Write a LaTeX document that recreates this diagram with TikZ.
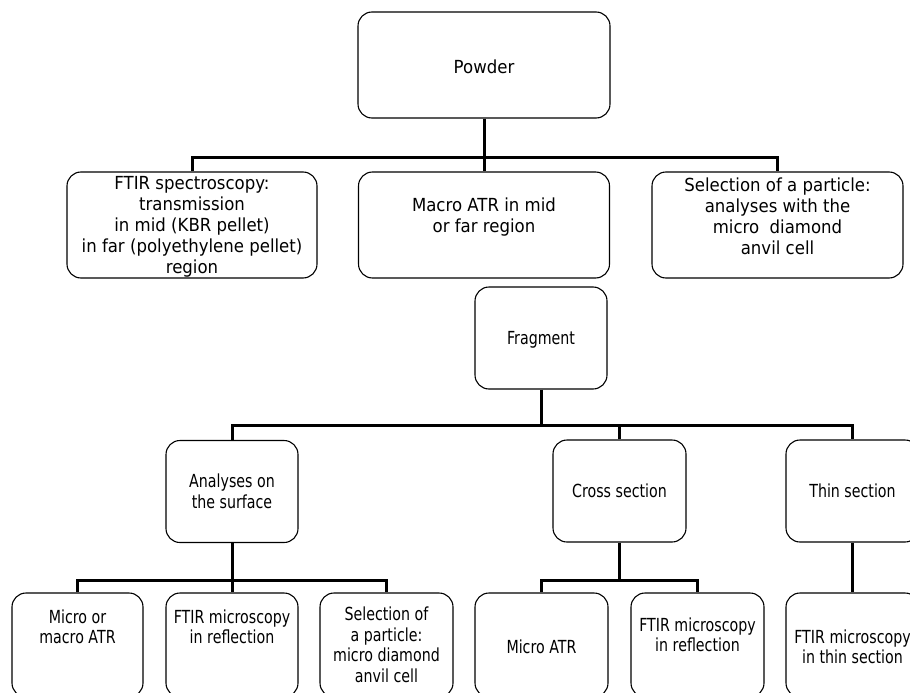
\documentclass[tikz,border=0pt]{standalone}
\usepackage{fontspec}
\setmainfont{DejaVu Sans}
\newfontfamily\upperfont[FakeStretch=0.92]{DejaVu Sans}
\newfontfamily\lowerfont[FakeStretch=0.79]{DejaVu Sans}
\usepackage{tikz}
\usetikzlibrary{positioning}

% text block, raised by #1 from the box centre
\newcommand{\boxtext}[2]{\raisebox{\dimexpr#1-6.5pt\relax}[0pt][0pt]{\begin{tabular}{@{}c@{}}#2\end{tabular}}}

\begin{document}
\begin{tikzpicture}[x=1pt, y=-1pt,
  upperbox/.style={rectangle, rounded corners=14pt, draw=black,
    line width=1.1pt, inner sep=0pt, minimum height=106pt,
    font=\upperfont\fontsize{18}{21}\selectfont},
  lowerbox/.style={rectangle, rounded corners=14pt, draw=black,
    line width=1.1pt, inner sep=0pt, minimum width=132pt,
    minimum height=102pt, font=\lowerfont\fontsize{18}{20.5}\selectfont},
  leafbox/.style={lowerbox, minimum width=133pt, minimum height=104pt},
  link/.style={line width=3pt, line join=miter}
]
\useasboundingbox (0,0) rectangle (910,693);
\clip (0,0) rectangle (910,693);

%% ==== Powder tree ====
\node[upperbox, minimum width=252pt] (powder) at (484,65) {\boxtext{-2pt}{Powder}};
\node[upperbox, minimum width=250pt] (ftir) at (192,225) {\boxtext{0pt}{FTIR spectroscopy:\\ transmission\\ in mid (KBR pellet)\\ in far (polyethylene pellet)\\ region}};
\node[upperbox, minimum width=251pt] (macro) at (484,225) {\boxtext{9pt}{Macro ATR in mid\\ or far region}};
\node[upperbox, minimum width=251pt] (particle) at (777.5,225) {\boxtext{8.5pt}{Selection of a particle:\\ analyses with the\\ micro\ \ diamond\\ anvil cell}};

%% ==== Fragment tree ====
\node[lowerbox] (fragment) at (541,338) {\boxtext{0pt}{Fragment}};
\node[lowerbox] (surface) at (232,491.5) {\boxtext{0pt}{Analyses on\\ the surface}};
\node[lowerbox, minimum width=133pt] (cross) at (619.5,491) {\boxtext{0pt}{Cross section}};
\node[lowerbox, minimum width=133pt] (thin) at (852.5,491) {\boxtext{0pt}{Thin section}};

%% ==== Leaves ====
\node[leafbox, minimum width=131pt] (surfatr) at (77.5,645) {\boxtext{18pt}{Micro or\\ macro ATR}};
\node[leafbox, minimum width=132pt] (surfrefl) at (232,645) {\boxtext{18pt}{FTIR microscopy\\ in reflection}};
\node[leafbox] (surfcell) at (386.5,645) {\boxtext{0pt}{Selection of\\ a particle:\\ micro diamond\\ anvil cell}};
\node[leafbox] (crossatr) at (541.5,645) {\boxtext{-2pt}{Micro ATR}};
\node[leafbox] (crossrefl) at (697.5,645) {\boxtext{10pt}{FTIR microscopy\\ in reflection}};
\node[leafbox] (thinrefl) at (852.5,645) {\boxtext{-2pt}{FTIR microscopy\\ in thin section}};

%% ==== Powder links ====
\draw[link] (powder.south) -- (macro.north);
\draw[link] (ftir.north) -- ++(0,-14) -| (particle.north);

%% ==== Fragment links ====
\draw[link] (surface.north) -- ++(0,-14) coordinate (fragbus) -| (thin.north);
\draw[link] (fragment.south) -- (fragment.south |- fragbus);
\draw[link] (cross.north) -- (cross.north |- fragbus);

%% ==== Leaf links ====
\draw[link] (surfatr.north) -- ++(0,-12) coordinate (surfbus) -| (surfcell.north);
\draw[link] (surface.south) -- (surfrefl.north);
\draw[link] (crossatr.north) -- ++(0,-12) coordinate (crossbus) -| (crossrefl.north);
\draw[link] (cross.south) -- (cross.south |- crossbus);
\draw[link] (thin.south) -- (thinrefl.north);

\end{tikzpicture}
\end{document}
